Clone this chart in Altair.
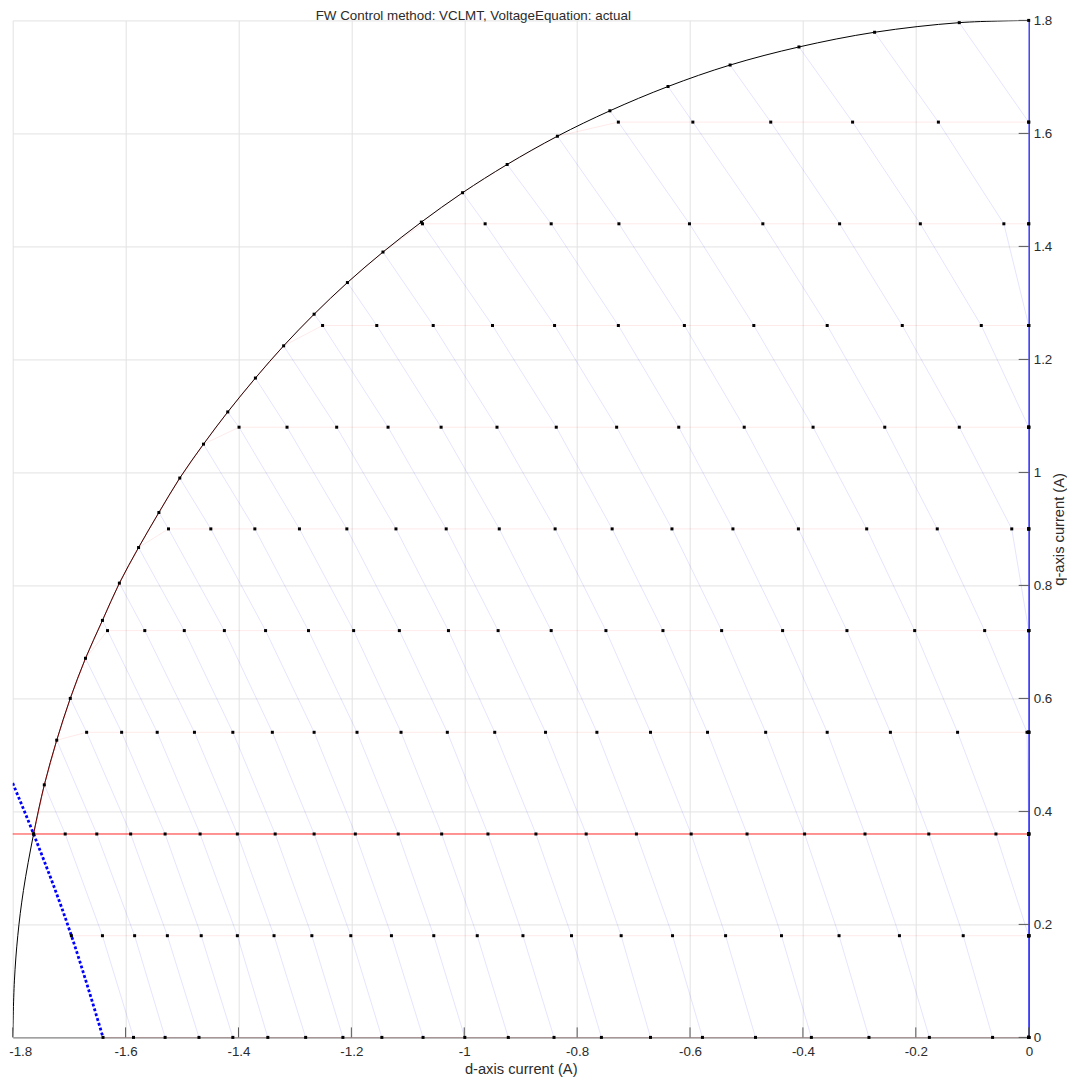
import altair as alt
import pandas as pd

# ---------------- data ----------------
# constant-torque rows (q-axis current) and the first speed index that is inside the current circle
ROW_IQ = [0.00, 0.18, 0.36, 0.54, 0.72, 0.90, 1.08, 1.26, 1.44, 1.62]
ROW_FIRST_SPEED = [0, 0, 0, 3, 5, 8, 11, 14, 17, 21]

# d-axis current of each operating point along a row (speed index increasing)
ID_ROW_000 = [-1.640, -1.586, -1.530, -1.470, -1.410, -1.348, -1.281, -1.215, -1.146, -1.073,
              -0.999, -0.922, -0.841, -0.757, -0.670, -0.578, -0.484, -0.385, -0.283, -0.176,
              -0.064, 0.0, 0.0, 0.0, 0.0, 0.0, 0.0, 0.0]
ID_ROW_018 = [-1.696, -1.641, -1.584, -1.526, -1.466, -1.402, -1.337, -1.270, -1.201, -1.129,
              -1.054, -0.977, -0.896, -0.810, -0.722, -0.631, -0.537, -0.438, -0.336, -0.229,
              -0.116, 0.0, 0.0, 0.0, 0.0, 0.0, 0.0, 0.0]
ID_ROW_036 = [-1.763, -1.707, -1.651, -1.591, -1.530, -1.468, -1.402, -1.335, -1.266, -1.193,
              -1.117, -1.040, -0.958, -0.873, -0.784, -0.695, -0.598, -0.499, -0.397, -0.290,
              -0.177, -0.058, 0.0, 0.0, 0.0, 0.0, 0.0, 0.0]
ID_ROW_054 = [-1.669, -1.607, -1.544, -1.478, -1.410, -1.340, -1.266, -1.190, -1.112, -1.030,
              -0.946, -0.856, -0.765, -0.670, -0.569, -0.466, -0.357, -0.245, -0.126, -0.003,
              0.0, 0.0, 0.0, 0.0, 0.0]
ID_ROW_072 = [-1.632, -1.566, -1.496, -1.425, -1.352, -1.276, -1.196, -1.115, -1.028, -0.940,
              -0.846, -0.749, -0.648, -0.544, -0.436, -0.322, -0.202, -0.078, 0.0, 0.0, 0.0, 0.0, 0.0]
ID_ROW_090 = [-1.524, -1.449, -1.371, -1.292, -1.208, -1.121, -1.032, -0.938, -0.839, -0.738,
              -0.632, -0.524, -0.408, -0.287, -0.162, -0.030, 0.0, 0.0, 0.0, 0.0]
ID_ROW_108 = [-1.399, -1.314, -1.226, -1.135, -1.041, -0.942, -0.837, -0.730, -0.620, -0.504,
              -0.382, -0.255, -0.123, 0.0, 0.0, 0.0, 0.0]
ID_ROW_126 = [-1.251, -1.155, -1.055, -0.950, -0.840, -0.727, -0.610, -0.487, -0.357, -0.224,
              -0.084, 0.0, 0.0, 0.0]
ID_ROW_144 = [-1.074, -0.963, -0.846, -0.726, -0.601, -0.471, -0.335, -0.192, -0.044, 0.0, 0.0]
ID_ROW_162 = [-0.727, -0.595, -0.457, -0.312, -0.160, 0.0, 0.0]

# operating points on the current-limit circle, one per speed
CIRCLE_ID = [-1.763, -1.744, -1.722, -1.698, -1.671, -1.641, -1.611, -1.577, -1.541, -1.504,
             -1.462, -1.419, -1.370, -1.320, -1.266, -1.207, -1.144, -1.076, -1.003, -0.924,
             -0.835, -0.742, -0.639, -0.529, -0.407, -0.273, -0.123, 0.000]
CIRCLE_IQ = [0.360, 0.447, 0.526, 0.600, 0.671, 0.738, 0.804, 0.867, 0.929, 0.990,
             1.050, 1.107, 1.167, 1.224, 1.280, 1.336, 1.390, 1.443, 1.495, 1.545,
             1.595, 1.640, 1.683, 1.721, 1.753, 1.779, 1.796, 1.800]

# lower part of the current-limit circle (no markers)
ARC_LOW_ID = [-1.800, -1.797, -1.791, -1.781]
ARC_LOW_IQ = [0.000, 0.100, 0.180, 0.260]

# voltage limit at the selected speed (blue dotted) and selected torque (red)
DOTTED_ID = [-1.800, -1.763, -1.696, -1.640]
DOTTED_IQ = [0.450, 0.360, 0.180, 0.000]
SELECTED_IQ = [0.36]

TICKS_D = [-1.8, -1.6, -1.4, -1.2, -1.0, -0.8, -0.6, -0.4, -0.2, 0.0]
TICKS_Q = [0.0, 0.2, 0.4, 0.6, 0.8, 1.0, 1.2, 1.4, 1.6, 1.8]

TITLE = "FW Control method: VCLMT, VoltageEquation: actual"
XTITLE = "d-axis current (A)"
YTITLE = "q-axis current (A)"

# ---------------- build tables ----------------
ROWS_D = [ID_ROW_000, ID_ROW_018, ID_ROW_036, ID_ROW_054, ID_ROW_072,
          ID_ROW_090, ID_ROW_108, ID_ROW_126, ID_ROW_144, ID_ROW_162]
grid = {}
for k, (first, ds) in enumerate(zip(ROW_FIRST_SPEED, ROWS_D)):
    for i, d in enumerate(ds):
        grid[(k, first + i)] = d
N_SPEED = len(CIRCLE_ID)

pts = []
for (k, j), d in grid.items():
    pts.append(dict(d=d, q=ROW_IQ[k]))
for d, q in zip(CIRCLE_ID, CIRCLE_IQ):
    pts.append(dict(d=d, q=q))
df_pts = pd.DataFrame(pts)

speed = []
for j in range(N_SPEED):
    o = 0
    for k, q in enumerate(ROW_IQ):
        if (k, j) in grid:
            speed.append(dict(d=grid[(k, j)], q=q, g=j, o=o))
            o += 1
    speed.append(dict(d=CIRCLE_ID[j], q=CIRCLE_IQ[j], g=j, o=o))
df_speed = pd.DataFrame(speed)

torque = []
for k, q in enumerate(ROW_IQ):
    o = 0
    for j in range(N_SPEED - 1, -1, -1):
        if (k, j) in grid:
            torque.append(dict(d=grid[(k, j)], q=q, g=k, o=o))
        else:
            torque.append(dict(d=CIRCLE_ID[j], q=CIRCLE_IQ[j], g=k, o=o))
        o += 1
df_torque = pd.DataFrame(torque)

arc = [dict(d=d, q=q, o=i) for i, (d, q) in enumerate(zip(ARC_LOW_ID + CIRCLE_ID, ARC_LOW_IQ + CIRCLE_IQ))]
df_arc = pd.DataFrame(arc)
df_dot = pd.DataFrame(dict(d=DOTTED_ID, q=DOTTED_IQ))
df_sel = pd.DataFrame(dict(q_sel=SELECTED_IQ))
df_xt = pd.DataFrame(dict(d=TICKS_D))
df_yt = pd.DataFrame(dict(q=TICKS_Q))

# ---------------- chart ----------------
W, H = 1016, 1017
FONT = "Liberation Sans"
TXT = "#2b2b2b"
xs = alt.Scale(domain=[-1.8, 0.0], nice=False, zero=False)
ys = alt.Scale(domain=[0.0, 1.8], nice=False, zero=False)
LBL = "toString(round(datum.value*10)/10)"

x_axis = alt.Axis(values=TICKS_D, labelExpr=LBL, grid=True, gridColor="#e2e2e2", gridWidth=1,
                  domainColor="#6e6e6e", domainWidth=1, ticks=False, labelPadding=7.5,
                  labelFlush=True, labelFlushOffset=4,
                  labelFont=FONT, labelFontSize=13.4, labelColor=TXT,
                  title=XTITLE, titleFont=FONT, titleFontSize=14.7, titleFontWeight="normal",
                  titleColor=TXT, titlePadding=3)
y_axis = alt.Axis(values=TICKS_Q, labelExpr=LBL, orient="right", grid=True, gridColor="#e2e2e2",
                  gridWidth=1, domainColor="#0000ff", domainWidth=1, ticks=False, labelPadding=4.5,
                  labelFlush=False,
                  labelFont=FONT, labelFontSize=13.4, labelColor=TXT,
                  title=YTITLE, titleFont=FONT, titleFontSize=14.7, titleFontWeight="normal",
                  titleColor=TXT, titlePadding=0, titleAngle=270, titleBaseline="top")

XA = alt.X("d:Q", scale=xs, axis=x_axis)
YA = alt.Y("q:Q", scale=ys, axis=y_axis)

speed_lines = alt.Chart(df_speed).mark_line(color="#0000ff", opacity=0.11, strokeWidth=1).encode(
    x=XA, y=YA, detail="g:N", order="o:Q")
arc_line = alt.Chart(df_arc).mark_line(color="#000000", strokeWidth=1, interpolate="catmull-rom",
                                       clip=True).encode(x=XA, y=YA, order="o:Q")
torque_lines = alt.Chart(df_torque).mark_line(color="#ff0000", opacity=0.09, strokeWidth=1).encode(
    x=XA, y=YA, detail="g:N", order="o:Q")
sel_line = alt.Chart(df_sel).mark_rule(color="#ff0000", stroke="#ff0000", strokeWidth=1,
                                       strokeOpacity=0.8).encode(
    y=alt.Y("q_sel:Q", scale=ys, axis=y_axis), x=alt.value(0), x2=alt.value(W))
dot_line = alt.Chart(df_dot).mark_line(color="#0000ff", strokeWidth=2.8, strokeDash=[2.8, 2.2],
                                       interpolate="monotone", clip=True).encode(x=XA, y=YA)
xticks = alt.Chart(df_xt).mark_rule(color="#555555", stroke="#555555", strokeWidth=1).encode(
    x=XA, y=alt.value(H), y2=alt.value(H - 10))
yticks = alt.Chart(df_yt).mark_rule(color="#555555", stroke="#555555", strokeWidth=1).encode(
    y=YA, x=alt.value(W), x2=alt.value(W - 10))
points = alt.Chart(df_pts).mark_square(size=9, color="#000000", opacity=1).encode(x=XA, y=YA)

chart = alt.layer(
    speed_lines, arc_line, torque_lines, sel_line, dot_line, xticks, yticks, points,
).properties(
    width=W, height=H,
    autosize=alt.AutoSizeParams(type="none"),
    padding={"left": 4.7, "top": 12.4, "right": 38.3, "bottom": 40},
    title=alt.TitleParams(text=TITLE, anchor="start", dx=307, fontSize=13.4, font=FONT,
                          fontWeight="normal", color=TXT, offset=-9),
    background="#ffffff",
).configure_view(strokeWidth=0)

chart.save("out.html", embed_options={"renderer": "svg", "actions": False})
